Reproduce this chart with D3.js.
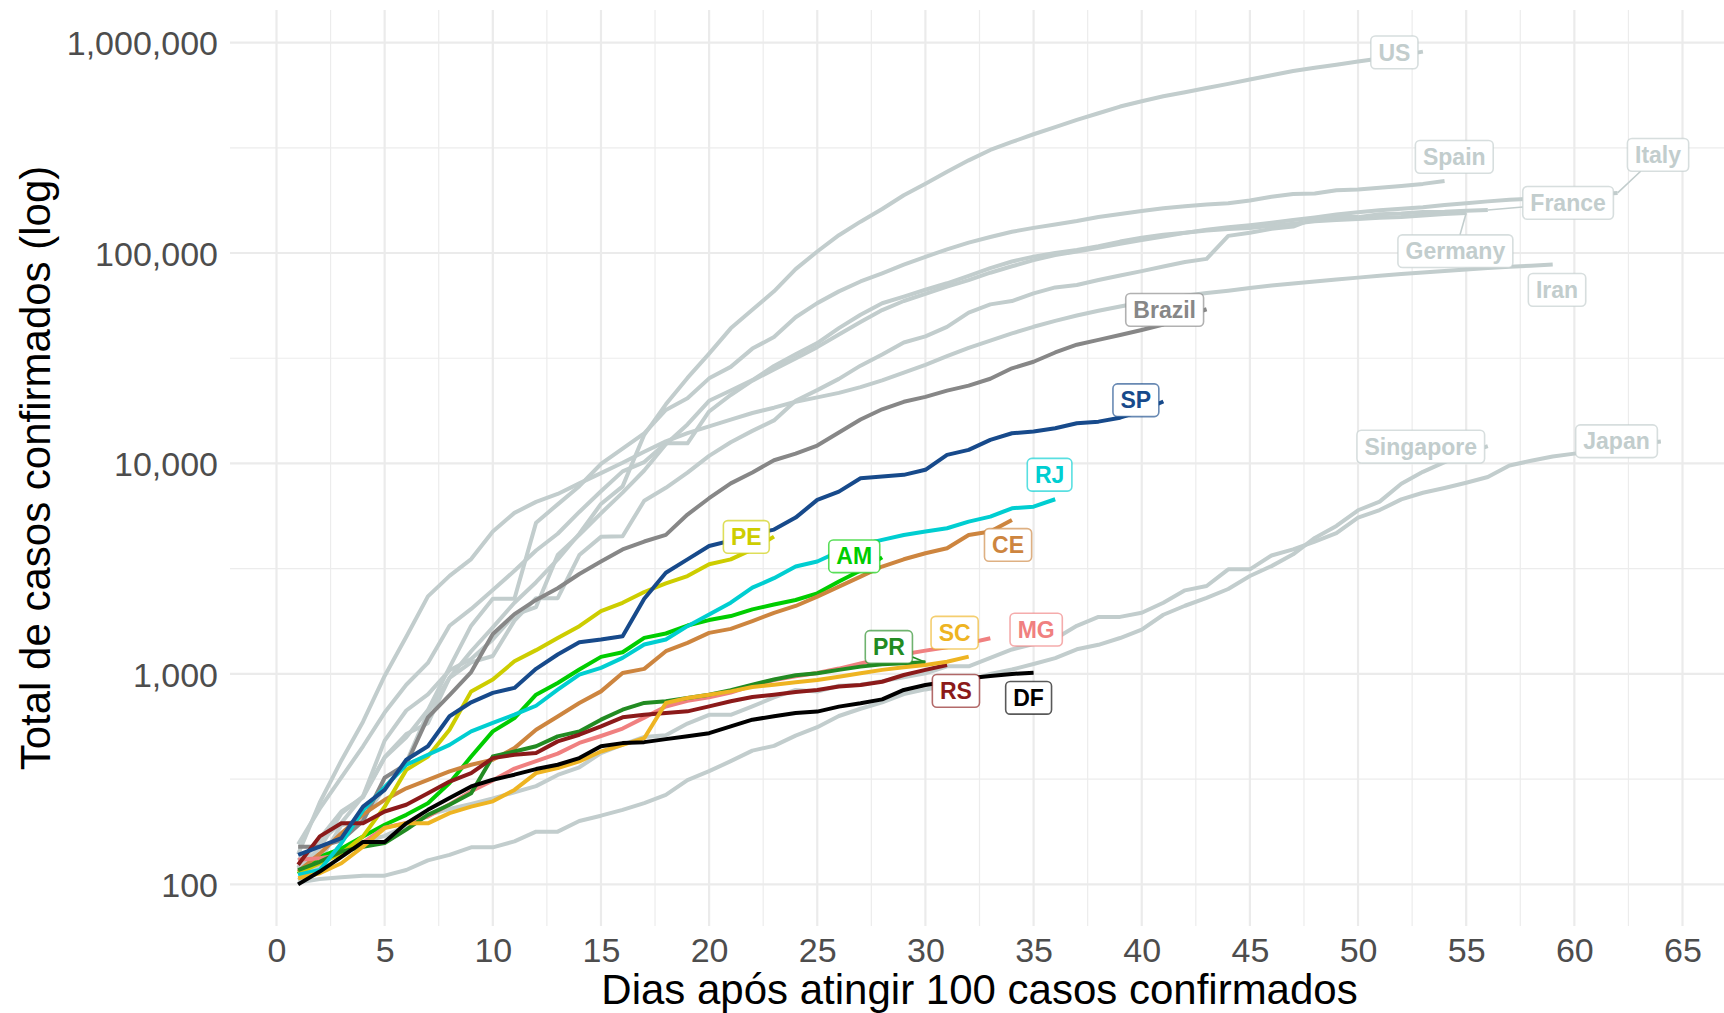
<!DOCTYPE html>
<html><head><meta charset="utf-8">
<script src="https://cdn.jsdelivr.net/npm/d3@7"></script>
<style>
html,body{margin:0;padding:0;background:#fff;}
svg{display:block;}
text{font-family:"Liberation Sans", Arial, Helvetica, sans-serif;}
</style></head><body>
<svg id="chart" width="1724" height="1013"></svg>
<script>
// ---------------- DATA (cumulative confirmed cases, day 1 = first day with >= 100 cases) ----------------
const us = [118,149,217,262,402,518,583,959,1281,1663,2179,2727,3499,4632,6421,7783,13677,19100,25489,33276,43847,53740,65778,83836,101657,121478,140886,161807,188172,213372,243453,275586,308850,337072,366667,396223,429052,461437,496535,526396,555313,580619,607670,636350,667801,699706,732197,759086,784326,811865,840351,869170,905358];
const spain = [120,165,222,259,400,500,673,1073,1695,2277,2277,5232,6391,7798,9942,11748,13910,17963,20410,25374,28768,35136,39885,49515,57786,65719,73235,80110,87956,95923,104118,112065,119199,126168,131646,136675,141942,148220,153222,158273,163027,166831,170099,172541,177644,184948,190839,191726,198674,200210,204178,208389,213024,219764];
const italy = [155,229,322,453,655,888,1128,1694,2036,2502,3089,3858,4636,5883,7375,9172,10149,12462,12462,17660,21157,24747,27980,31506,35713,41035,47021,53578,59138,63927,69176,74386,80589,86498,92472,97689,101739,105792,110574,115242,119827,124632,128948,132547,135586,139422,143626,147577,152271,156363,159516,162488,165155,168941,172434,175925,178972,181228,183957,187327,189973,192994];
const germany = [130,159,196,262,482,670,799,1040,1176,1457,1908,2078,3675,4585,5795,7272,9257,12327,15320,19848,22213,24873,29056,32986,37323,43938,50871,57695,62095,66885,71808,77872,84794,91159,96092,100123,103374,107663,113296,118181,122171,124908,127854,130072,131359,134753,137698,141397,143342,145184,147065,148291,150648,153129,154999];
const france = [100,130,191,204,288,380,656,957,1134,1217,1792,2289,2289,3672,4480,4513,6650,7661,9043,10871,12612,14282,16018,19856,22304,25233,29155,32964,37575,40174,44550,52128,56989,59105,64338,68605,70478,74390,78167,82048,86334,90676,93790,120633,124869,130253,133470,146075,148084,148086,153011,154097,156480,157125,158636,159952];
const iran = [139,245,388,593,978,1501,2336,2922,3513,4747,5823,6566,7161,8042,9000,10075,11364,12729,13938,14991,16169,17361,18407,19644,20610,21638,23049,24811,27017,29406,32332,35408,38309,41495,44605,47593,50468,53183,55743,58226,60500,62589,64586,66220,68192,70029,71686,73303,74877,76389,77995,79494,80868,82211,83505,84802,85996,87026,88194];
const singapore = [102,106,108,110,110,117,130,138,150,150,160,178,178,200,212,226,243,266,313,345,385,432,455,509,558,631,683,732,802,844,879,926,1000,1049,1114,1189,1309,1375,1481,1623,1910,2108,2299,2532,2918,3252,3699,4427,5050,5992,6588,8014,9125,10141,11178,12075];
const japan = [105,122,147,159,170,189,214,228,241,256,274,293,331,360,420,461,502,511,581,639,639,701,773,839,825,878,889,924,963,1007,1086,1086,1193,1307,1387,1468,1693,1866,1866,1953,2178,2495,2617,3139,3139,3654,3906,4257,4667,5530,6005,6748,7255,7645,8100,8626,9787,10296,10797,11135,11512,11772,12368,12700];
const brazil = [151,151,162,200,321,372,621,793,1021,1546,1924,2247,2554,2985,3417,3904,4256,4579,5717,6836,8044,9056,10360,11130,12161,14034,16170,18092,19638,20727,22192,23430,25262,28320,30425,33682,36658,38654,40743,43079,45757,50036,54043];

const stAM = [112,135,148,169,192,214,243,303,405,533,617,797,906,1049,1205,1268,1483,1556,1698,1802,1883,2025,2138,2245,2415,2750,3100,3580];
const stCE = [115,140,175,215,252,286,314,344,370,391,444,543,628,727,826,1011,1057,1282,1405,1567,1637,1782,1950,2103,2329,2600,2900,3237,3505,3743,3955,4575,4745,5393];
const stMG = [131,133,138,158,186,196,210,240,277,312,355,385,418,470,507,550,620,700,745,775,815,880,935,975,1010,1060,1120,1180,1240,1290,1340,1400,1476];
const stPE = [113,126,140,169,234,350,405,543,826,940,1148,1297,1483,1686,1986,2178,2450,2690,2917,3317,3500,3908,4490];
const stPR = [117,128,143,151,157,182,214,239,271,405,428,453,505,533,606,676,728,741,769,797,836,889,940,986,1007,1045,1083,1110,1125,1135];
const stRJ = [111,117,157,225,290,370,413,460,533,585,640,706,842,993,1069,1192,1379,1456,1686,1918,2179,2569,2850,3237,3421,3814,4103,4335,4575,4745,4921,5294,5590,6124,6235,6760];
const stRS = [124,169,195,195,222,239,271,308,338,398,413,421,478,514,563,622,640,652,664,701,741,777,797,820,839,871,886,918,988,1045,1102];
const stSC = [107,113,126,151,185,195,195,218,234,248,281,338,357,384,428,460,495,727,769,797,826,866,889,912,935,970,1007,1045,1075,1103,1143,1208];
const stSP = [138,151,166,234,281,391,453,629,733,813,858,1057,1237,1415,1456,1510,2275,3027,3500,4054,4300,4600,4850,5530,6710,7350,8510,8670,8830,9330,10990,11600,12940,13920,14170,14700,15520,15800,16500,17800,19700];
const stDF = [100,115,135,159,159,195,226,257,292,314,332,353,370,398,453,469,474,490,505,523,563,606,629,652,662,699,725,757,839,886,918,953,977,1000,1014];

const countryNames = ["US","Spain","Italy","Germany","France","Iran","Singapore","Japan"];
const stateNames = ["AM","CE","MG","PE","PR","RJ","RS","SC","SP","DF"];
const xTicks = [0,5,10,15,20,25,30,35,40,45,50,55,60,65];
const yTicks = [100,1000,10000,100000,1000000];
const xTitle = "Dias após atingir 100 casos confirmados";
const yTitle = "Total de casos confirmados (log)";

// label anchor positions (data space: day, cases) as placed by the repel layout
const labelDay   = {US:51.68, Spain:54.45, Italy:63.87, Germany:54.5, France:59.71, Iran:59.2, Singapore:52.9, Japan:61.95, Brazil:41.06,
                    SP:39.73, RJ:35.74, PE:21.72, AM:26.71, CE:33.82, MG:35.12, SC:31.35, PR:28.31, RS:31.41, DF:34.77};
const labelCases = {US:898400, Spain:286200, Italy:292600, Germany:102000, France:173000, Iran:66780, Singapore:12020, Japan:12750, Brazil:53650,
                    SP:19970, RJ:8838, PE:4474, AM:3622, CE:4100, MG:1623, SC:1570, PR:1342, RS:831, DF:770};
const withSegment = {Italy:true, Germany:true, France:true, PR:true};

// ---------------- STYLE ----------------
const GREY = "#c2cdcd";
const colors = {US:GREY, Spain:GREY, Italy:GREY, Germany:GREY, France:GREY, Iran:GREY, Singapore:GREY, Japan:GREY,
  Brazil:"#878787", AM:"#00cd00", CE:"#cd853f", MG:"#f08080", PE:"#cdcd00", PR:"#228b22", RJ:"#00ced1",
  RS:"#8b1a1a", SC:"#eeb422", SP:"#174a8b", DF:"#000000"};

const valuesByName = {US:us, Spain:spain, Italy:italy, Germany:germany, France:france, Iran:iran, Singapore:singapore, Japan:japan,
  Brazil:brazil, AM:stAM, CE:stCE, MG:stMG, PE:stPE, PR:stPR, RJ:stRJ, RS:stRS, SC:stSC, SP:stSP, DF:stDF};
const drawOrder = [...countryNames, "Brazil", ...stateNames];
const series = drawOrder.map(n => ({name:n, values: valuesByName[n]}));

// ---------------- SCALES ----------------
const svg = d3.select("#chart");
const panel = {l:230, r:1729, t:10, b:926};
const days = series.flatMap(s => s.values.map((v,i)=>i+1));
const dMin = d3.min(days), dMax = d3.max(days), xp = (dMax-dMin)*0.05;
const x = d3.scaleLinear().domain([dMin-xp, dMax+xp]).range([panel.l, panel.r]);
const logs = series.flatMap(s => s.values.map(v=>Math.log10(v)));
const lMin = d3.min(logs), lMax = d3.max(logs), lp = (lMax-lMin)*0.05;
const y = d3.scaleLog().domain([Math.pow(10,lMin-lp), Math.pow(10,lMax+lp)]).range([panel.b, panel.t]);

// ---------------- GRID ----------------
const grid = svg.append("g");
const xd = x.domain();
const xMinor = d3.range(-2.5, 70, 5).filter(v => v>xd[0] && v<xd[1]);
const yd = y.domain();
const yMinor = yTicks.map(v => v*Math.sqrt(10)).concat([Math.sqrt(10)*10]).filter(v => v>yd[0] && v<yd[1]);
grid.selectAll(".xmn").data(xMinor).join("line").attr("x1",d=>x(d)).attr("x2",d=>x(d)).attr("y1",panel.t).attr("y2",panel.b)
  .attr("stroke","#ececec").attr("stroke-width",1.2);
grid.selectAll(".ymn").data(yMinor).join("line").attr("y1",d=>y(d)).attr("y2",d=>y(d)).attr("x1",panel.l).attr("x2",panel.r)
  .attr("stroke","#ececec").attr("stroke-width",1.2);
grid.selectAll(".xmj").data(xTicks).join("line").attr("x1",d=>x(d)).attr("x2",d=>x(d)).attr("y1",panel.t).attr("y2",panel.b)
  .attr("stroke","#ebebeb").attr("stroke-width",2.2);
grid.selectAll(".ymj").data(yTicks).join("line").attr("y1",d=>y(d)).attr("y2",d=>y(d)).attr("x1",panel.l).attr("x2",panel.r)
  .attr("stroke","#ebebeb").attr("stroke-width",2.2);

// ---------------- AXES ----------------
const fmt = d3.format(",");
const gx = svg.append("g").attr("transform",`translate(0,${panel.b})`)
  .call(d3.axisBottom(x).tickValues(xTicks).tickSize(0).tickPadding(12).tickFormat(d3.format("d")));
const gy = svg.append("g").attr("transform",`translate(${panel.l},0)`)
  .call(d3.axisLeft(y).tickValues(yTicks).tickSize(0).tickPadding(12).tickFormat(fmt));
[gx,gy].forEach(g => {
  g.select(".domain").remove();
  g.selectAll("text").attr("fill","#4d4d4d").style("font-size","34px").style("font-family",'"Liberation Sans", Arial, sans-serif');
});
gy.selectAll("text").attr("dy","0.36em");

svg.append("text").attr("x",(panel.l+panel.r)/2).attr("y",1004).attr("text-anchor","middle")
  .style("font-size","42px").attr("fill","#000").text(xTitle);
svg.append("text").attr("transform",`translate(49.5,${(panel.t+panel.b)/2}) rotate(-90)`).attr("text-anchor","middle")
  .style("font-size","42px").attr("fill","#000").text(yTitle);

// ---------------- LINES ----------------
const line = d3.line().x((v,i)=>x(i+1)).y(v=>y(v));
svg.append("g").selectAll("path").data(series).join("path")
  .attr("d", d => line(d.values))
  .attr("fill","none").attr("stroke", d => colors[d.name])
  .attr("stroke-width",4).attr("stroke-linejoin","round").attr("stroke-linecap","butt");

// ---------------- LABELS ----------------
const FS = 23, PADX = 7.6, BH = 32.7;
const lg = svg.append("g");
drawOrder.forEach(name => {
  const vals = valuesByName[name];
  const px = x(vals.length), py = y(vals[vals.length-1]);
  const cx = x(labelDay[name]), cy = y(labelCases[name]);
  const g = lg.append("g");
  const rect = g.append("rect");
  const t = g.append("text").attr("x",cx).attr("y",cy+8.2).attr("text-anchor","middle")
    .style("font-size",FS+"px").style("font-weight","bold").attr("fill",colors[name]).text(name);
  const tw = t.node().getComputedTextLength();
  const bw = tw + 2*PADX;
  if (withSegment[name]) {
    const dx = px-cx, dy = py-cy;
    const tt = Math.min(Math.abs((bw/2)/dx||Infinity), Math.abs((BH/2)/dy||Infinity));
    g.insert("line","rect").attr("x1",cx+dx*tt).attr("y1",cy+dy*tt).attr("x2",px).attr("y2",py)
      .attr("stroke",colors[name]).attr("stroke-width",1.6);
  }
  rect.attr("x",cx-bw/2).attr("y",cy-BH/2).attr("width",bw).attr("height",BH).attr("rx",4.5).attr("ry",4.5)
    .attr("fill","#fff").attr("stroke",colors[name]).attr("stroke-opacity",0.65).attr("stroke-width",1.6);
});
</script>
</body></html>
